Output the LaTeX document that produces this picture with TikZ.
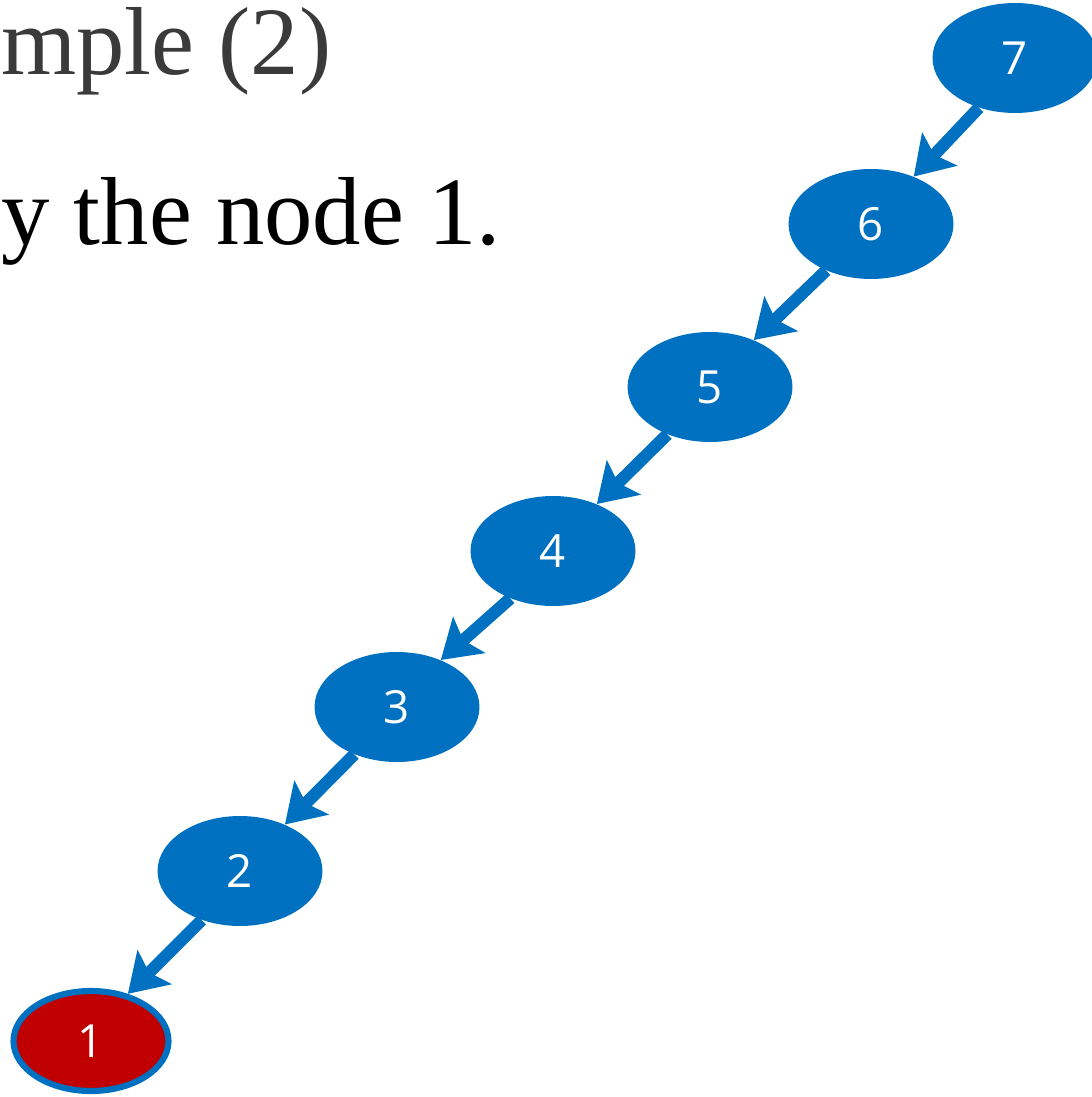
\documentclass[tikz,border=0pt]{standalone}
\usepackage{fontspec}
\setmainfont{Liberation Serif}
\newfontfamily\numfont{Open Sans}
\usetikzlibrary{arrows.meta, positioning, shapes.geometric}
\definecolor{nodeblue}{HTML}{0070C0}
\definecolor{hitred}{HTML}{C00000}
\definecolor{titlegray}{HTML}{3A3A3A}

\begin{document}
\begin{tikzpicture}[
    x=0.02cm, y=-0.02cm,
    vertex/.style={ellipse, fill=nodeblue, inner sep=0pt, minimum width=3.3cm, minimum height=2.2cm, text=white, font=\numfont\fontsize{26}{30}\selectfont},
    found/.style={vertex, fill=hitred, draw=nodeblue, line width=3.5pt, minimum width=3.1cm, minimum height=2.0cm},
    arrow/.style={-{Stealth[length=0.75cm, width=0.95cm, inset=0.15cm]}, line width=7pt, nodeblue},
]
\useasboundingbox (0,0) rectangle (1091,1097);

% Text
\node[anchor=base west, inner sep=0pt, text=titlegray, font=\fontsize{55}{60}\selectfont] (title) at (1,75) {mple (2)};
\node[anchor=base west, inner sep=0pt, font=\fontsize{55}{60}\selectfont] (body) at (1,245) {y the node 1.};

% Nodes
\node[vertex] (n7) at (1015,58) {7};
\node[vertex] (n6) at (871,224) {6};
\node[vertex] (n5) at (710,387) {5};
\node[vertex] (n4) at (553,551) {4};
\node[vertex] (n3) at (397,707) {3};
\node[vertex] (n2) at (240,871) {2};
\node[found] (n1) at (91,1041) {1};

% Arrows
\draw[arrow] (n7.234) -- (n6.48);
\draw[arrow] (n6.226) -- (n5.47);
\draw[arrow] (n5.228) -- (n4.47);
\draw[arrow] (n4.228) -- (n3.47);
\draw[arrow] (n3.228) -- (n2.46);
\draw[arrow] (n2.232) -- (n1.52);

\end{tikzpicture}
\end{document}
